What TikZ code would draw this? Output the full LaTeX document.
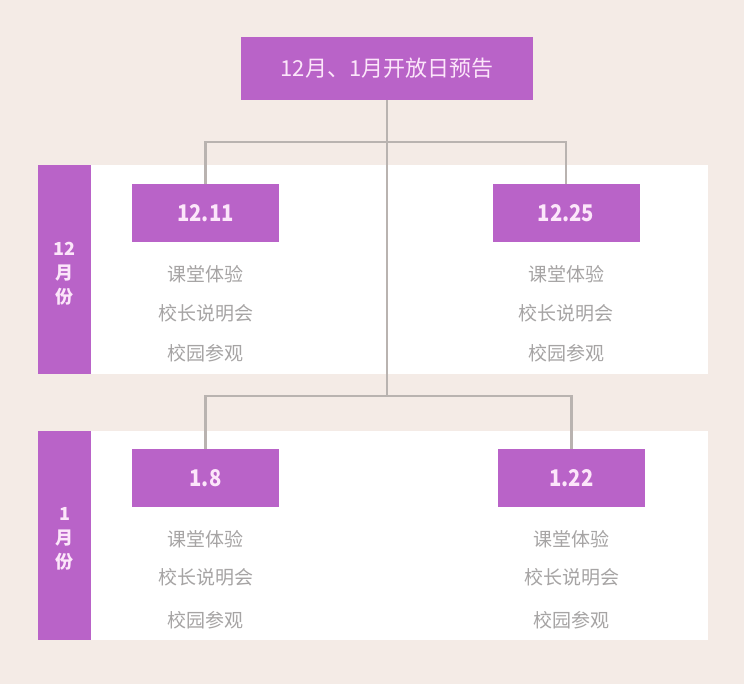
\documentclass[tikz,border=0pt]{standalone}
\usepackage{fontspec}
\usepackage{graphicx}
\setmainfont{Noto Sans CJK SC}
\definecolor{bg}{HTML}{F4EBE6}
\definecolor{purp}{HTML}{B963C8}
\definecolor{pinktxt}{HTML}{FCE6FA}
\definecolor{itemgray}{HTML}{A6A4A4}
\definecolor{linegray}{HTML}{B9B3B0}
\newcommand{\datetxt}[1]{\scalebox{0.88}[1]{#1}}
\begin{document}
\begin{tikzpicture}[x=1pt,y=-1pt,
  titlebox/.style={fill=purp,text=pinktxt,minimum width=292pt,minimum height=63pt,inner sep=0pt,font=\fontsize{22}{24}\selectfont},
  datebox/.style={fill=purp,text=pinktxt,minimum width=147pt,minimum height=58pt,inner sep=0pt,font=\fontsize{23}{26}\selectfont\bfseries},
  item/.style={text=itemgray,inner sep=0pt,font=\fontsize{19}{22}\selectfont},
  sidebar/.style={fill=purp,minimum width=53pt,inner sep=0pt},
  sidetext/.style={text=pinktxt,inner sep=0pt,align=center,font=\fontsize{18}{24}\selectfont\bfseries},
  panel/.style={fill=white,draw=none,inner sep=0pt,minimum width=617pt},
  conn/.style={draw=linegray,line width=2.5pt}]
\fill[bg] (0,0) rectangle (744,684);
\useasboundingbox (0,0) rectangle (744,684);
% panels
\node[panel,minimum height=208pt] (p1) at (399.5,269.5) {};
\node[panel,minimum height=209pt] (p2) at (399.5,535.5) {};
\node[sidebar,minimum height=208pt] (s1) at (64.5,269.5) {};
\node[sidebar,minimum height=209pt] (s2) at (64.5,535.5) {};
\node[sidetext] (t1) at (64.5,274) {12\\月\\份};
\node[sidetext] (t2) at (64.5,539) {1\\月\\份};
% title
\node[titlebox] (title) at (387,68.5) {12月、1月开放日预告};
% date boxes
\node[datebox] (d1) at (205.5,213) {\datetxt{12.11}};
\node[datebox] (d2) at (566,213) {\datetxt{12.25}};
\node[datebox] (j1) at (205.5,478) {\datetxt{1.8}};
\node[datebox] (j2) at (571.5,478) {\datetxt{1.22}};
% junctions
\coordinate (k1) at (387,142);
\coordinate (k2) at (387,396);
% connectors
\draw[conn] (title.south) -- (k2);
\draw[conn] (d1.north) -- (d1.north |- k1) -- (d2.north |- k1) -- (d2.north);
\draw[conn] (j1.north) -- (j1.north |- k2) -- (j2.north |- k2) -- (j2.north);
% items
\node[item] (a1) at (205.5,274) {课堂体验};
\node[item] (a2) at (205.5,313) {校长说明会};
\node[item] (a3) at (205.5,353) {校园参观};
\node[item] (b1) at (566,274) {课堂体验};
\node[item] (b2) at (566,313) {校长说明会};
\node[item] (b3) at (566,353) {校园参观};
\node[item] (c1) at (205.5,539) {课堂体验};
\node[item] (c2) at (205.5,577) {校长说明会};
\node[item] (c3) at (205.5,620) {校园参观};
\node[item] (e1) at (571.5,539) {课堂体验};
\node[item] (e2) at (571.5,577) {校长说明会};
\node[item] (e3) at (571.5,620) {校园参观};
\end{tikzpicture}
\end{document}
